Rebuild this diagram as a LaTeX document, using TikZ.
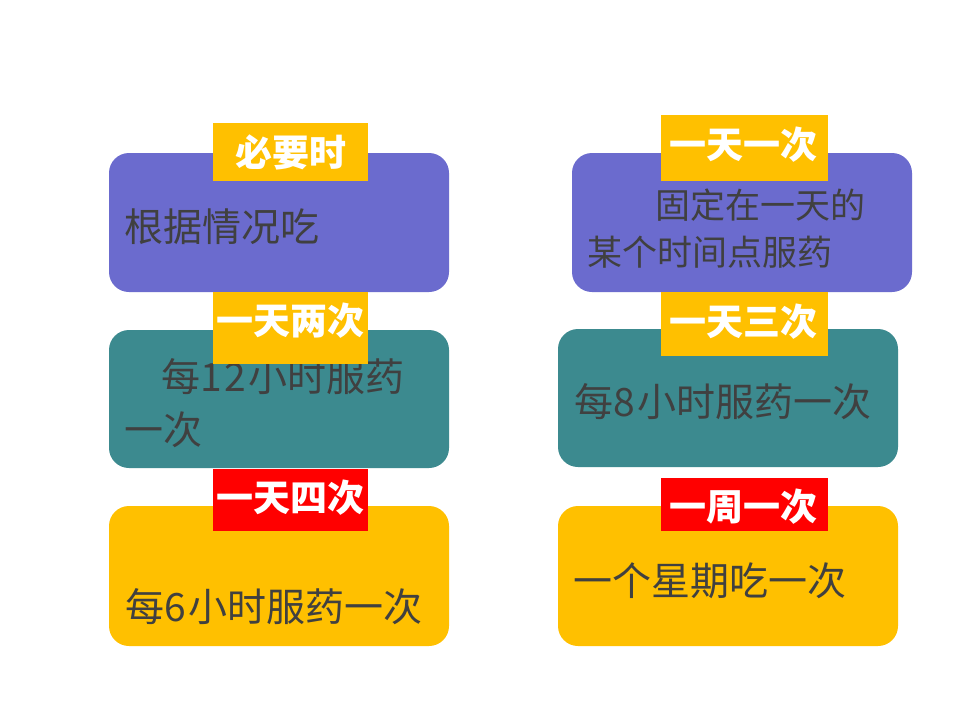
\documentclass[tikz,border=0pt]{standalone}
\usepackage{fontspec}
\setmainfont{Noto Sans CJK SC}
\definecolor{cardpurple}{HTML}{6B6BCE}
\definecolor{cardteal}{HTML}{3C8A8F}
\definecolor{cardgold}{HTML}{FFC000}
\definecolor{tagred}{HTML}{FF0000}
\definecolor{bodytxt}{HTML}{404040}
\newcommand{\dg}[1]{#1\kern2.5pt}
\begin{document}
\begin{tikzpicture}[x=1pt,y=-1pt,
  card/.style={rectangle, rounded corners=20pt, minimum width=340pt, inner sep=0pt, outer sep=0pt},
  tag/.style={rectangle, inner sep=0pt, outer sep=0pt},
  tagtext/.style={text=white, font=\fontsize{37}{40}\selectfont\bfseries, inner sep=0pt},
  body/.style={text=bodytxt, anchor=west, inner sep=0pt, align=left}]
\useasboundingbox[fill=white] (0,0) rectangle (960,720);

% cards
\node[card, fill=cardpurple, minimum height=139pt] (c1) at (279,222.5) {};
\node[card, fill=cardteal,   minimum height=138pt] (c2) at (279,399) {};
\node[card, fill=cardgold,   minimum height=140pt] (c3) at (279,576) {};
\node[card, fill=cardpurple, minimum height=139pt] (c4) at (742,222.5) {};
\node[card, fill=cardteal,   minimum height=138pt] (c5) at (728,398) {};
\node[card, fill=cardgold,   minimum height=140pt] (c6) at (728,576) {};

% body texts
\node[body, font=\fontsize{39}{47}\selectfont] (b1) at (124,227) {根据情况吃};
\node[body, font=\fontsize{39}{53}\selectfont] (b2) at (124,403.5) {\hspace*{37pt}每\dg{1}\dg{2}小时服药\\一次};
\node[body, font=\fontsize{39}{47}\selectfont] (b3) at (125,607) {每\dg{6}小时服药一次};
\node[body, font=\fontsize{35}{47}\selectfont] (b4) at (587,228.5) {\hspace*{68pt}固定在一天的\\某个时间点服药};
\node[body, font=\fontsize{39}{47}\selectfont] (b5) at (574,401.5) {每\dg{8}小时服药一次};
\node[body, font=\fontsize{39}{47}\selectfont] (b6) at (573,581) {一个星期吃一次};

% tags
\node[tag, fill=cardgold, minimum width=155pt, minimum height=58pt] (t1) at (290.5,152) {};
\node[tag, fill=cardgold, minimum width=155pt, minimum height=72pt] (t2) at (290.5,328) {};
\node[tag, fill=tagred,   minimum width=155pt, minimum height=62pt] (t3) at (290.5,500) {};
\node[tag, fill=cardgold, minimum width=167pt, minimum height=66pt] (t4) at (744.5,148) {};
\node[tag, fill=cardgold, minimum width=167pt, minimum height=64pt] (t5) at (744.5,324) {};
\node[tag, fill=tagred,   minimum width=167pt, minimum height=53pt] (t6) at (744.5,504.5) {};

\node[tagtext] (s1) at (290.5,152) {必要时};
\node[tagtext] (s2) at (290.5,321) {一天两次};
\node[tagtext] (s3) at (290.5,498) {一天四次};
\node[tagtext] (s4) at (743.5,145) {一天一次};
\node[tagtext] (s5) at (743.5,321.5) {一天三次};
\node[tagtext] (s6) at (743.5,507) {一周一次};
\end{tikzpicture}
\end{document}
